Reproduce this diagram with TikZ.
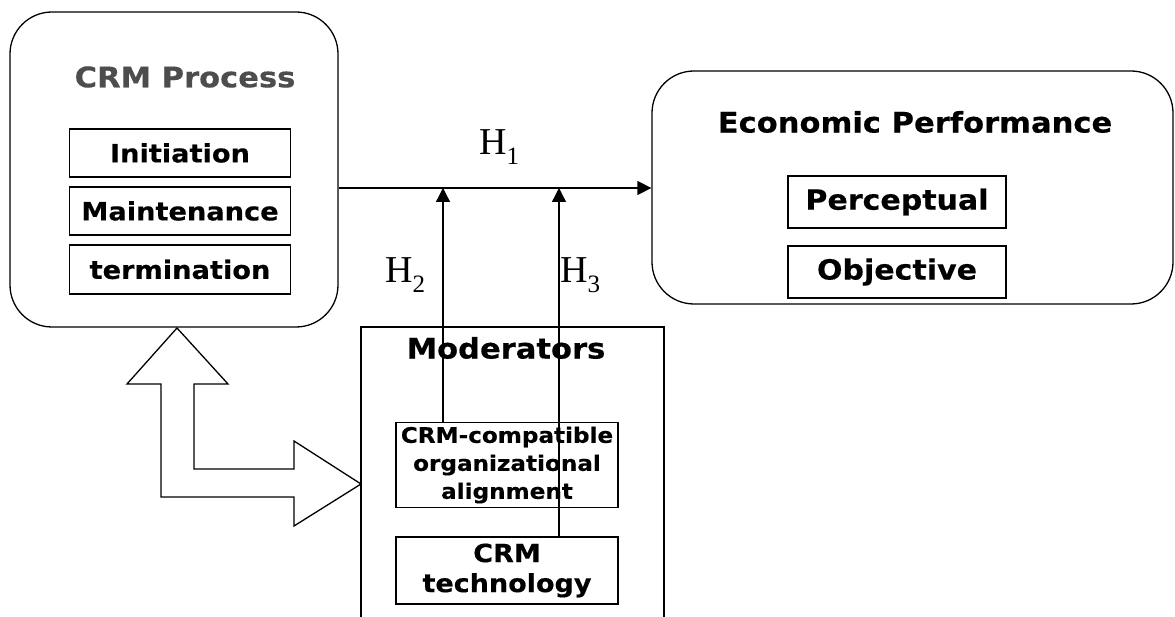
\documentclass[tikz,border=0pt]{standalone}
\usepackage{fontspec}
\setmainfont{DejaVu Sans}[BoldFeatures={FakeStretch=1.08,FakeBold=0.4}]
\newfontfamily\hfont{Liberation Serif}
\usetikzlibrary{arrows.meta,calc}
\definecolor{titlegray}{HTML}{4D4D4D}
\begin{document}
\begin{tikzpicture}[x=1pt,y=-1pt,
  lw/.style={line width=1.3pt},
  bigbox/.style={draw,lw,rounded corners=42pt,inner sep=0pt},
  itembox/.style={draw,lw,inner sep=0pt,minimum width=221pt,font=\fontsize{25.2}{30}\selectfont\bfseries},
  title/.style={font=\fontsize{28.3}{30}\selectfont\bfseries},
  hlab/.style={font=\hfont\fontsize{38}{40}\selectfont,inner sep=0pt,anchor=base west},
  arr/.style={lw,-{Triangle[length=14pt,width=14pt]}},
  blockarrow/.style={draw,lw,fill=white,line join=miter}
]
\useasboundingbox (0,0) rectangle (1175,617);
% CRM process
\node[bigbox,minimum width=328pt,minimum height=315pt] (crm) at (174,169.5) {};
\node[title,text=titlegray] (crmt) at (185,77) {CRM Process};
\node[itembox,minimum height=48pt] (init) at (180,153) {Initiation};
\node[itembox,minimum height=48pt] (maint) at (180,211) {Maintenance};
\node[itembox,minimum height=49pt] (term) at (180,269.5) {termination};
% Economic performance
\node[bigbox,minimum width=521pt,minimum height=233pt] (econ) at (912.5,187.5) {};
\node[title] (econt) at (915,122) {Economic Performance};
\node[itembox,minimum width=218pt,minimum height=52pt,font=\fontsize{27.8}{30}\selectfont\bfseries] (perc) at (897,202) {Perceptual};
\node[itembox,minimum width=218pt,minimum height=52pt,font=\fontsize{27.8}{30}\selectfont\bfseries] (obj) at (897,272) {Objective};
% Moderators
\draw[lw] (361,620) -- (361,327) -- (664,327) -- (664,620);
\node[title] (mod) at (506,348) {Moderators};
\node[itembox,minimum width=222pt,minimum height=85pt,align=center,
  font=\fontsize{21.4}{28}\selectfont\bfseries] (align) at (507,465)
  {CRM-compatible\\organizational\\alignment};
\node[itembox,minimum width=222pt,minimum height=67pt,align=center,
  font=\fontsize{25}{30}\selectfont\bfseries] (tech) at (507,570.5)
  {CRM\\technology};
% arrows
\coordinate (ay) at (0,188);
\coordinate (v2) at (443,188);
\coordinate (v3) at (559,188);
\draw[arr] (crm.east |- ay) -- (econ.west |- ay);
\draw[arr] (align.north -| v2) -- (v2);
\draw[arr] (tech.north -| v3) -- (v3);
% labels
\node[hlab] (h1) at (479,155) {H\raisebox{-10pt}{\fontsize{25}{25}\selectfont 1}};
\node[hlab] (h2) at (385,283) {H\raisebox{-10pt}{\fontsize{25}{25}\selectfont 2}};
\node[hlab] (h3) at (560,283) {H\raisebox{-10pt}{\fontsize{25}{25}\selectfont 3}};
% block double arrow
\draw[blockarrow] (177,328) -- (228,384) -- (194,384) -- (194,469) -- (294,469)
  -- (294,441) -- (361,484) -- (294,526) -- (294,497) -- (161,497) -- (161,384)
  -- (127,384) -- cycle;
\end{tikzpicture}
\end{document}
